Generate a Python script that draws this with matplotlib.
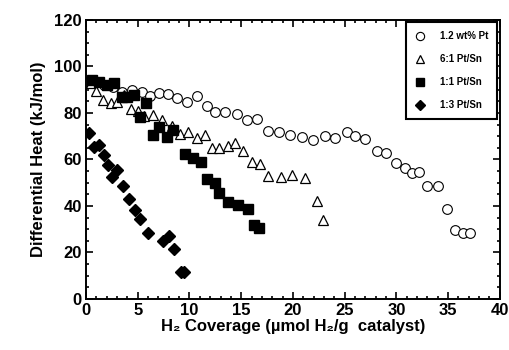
import matplotlib
matplotlib.use("Agg")
import matplotlib.pyplot as plt
from matplotlib.ticker import MultipleLocator

plt.rcParams['font.family'] = ['Liberation Sans', 'DejaVu Sans']
plt.rcParams['font.weight'] = 'bold'

# 1.2 wt% Pt
pt_x = [0.7, 1.7, 2.6, 3.5, 4.4, 5.4, 6.2, 7.1, 7.9, 8.8, 9.8, 10.7, 11.7, 12.5, 13.4,
        14.6, 15.6, 16.5, 17.6, 18.7, 19.7, 20.9, 21.9, 23.1, 24.1, 25.2, 26.0, 27.0,
        28.1, 29.0, 30.0, 30.8, 31.5, 32.2, 33.0, 34.0, 34.9, 35.7, 36.4, 37.1]
pt_y = [93, 92, 91, 89, 90, 89, 87.3, 88.6, 88.2, 86.5, 84.7, 87.3, 83, 80.4, 80.4,
        79.6, 77, 77.4, 72.3, 71.8, 70.5, 69.7, 68.4, 70.1, 69.2, 71.8, 70.1, 68.8,
        63.7, 62.8, 58.5, 56.3, 54.2, 54.6, 48.6, 48.6, 38.8, 29.5, 28.5, 28.5]

# 6:1 Pt/Sn
s61_x = [0.5, 1.0, 1.6, 2.4, 3.0, 3.7, 4.3, 5.0, 5.6, 6.5, 7.3, 8.3, 9.1, 9.9, 10.7,
         11.5, 12.2, 12.9, 13.7, 14.4, 15.2, 16.0, 16.8, 17.6, 18.8, 19.9, 21.2, 22.3, 22.9]
s61_y = [93, 89.5, 85.5, 84.3, 84.5, 87.5, 81.7, 81, 78.5, 79, 77, 74.5, 71, 71.8, 69.2,
         70.5, 65, 64.8, 65.8, 67, 63.7, 59, 58, 52.9, 52.5, 53.3, 52, 42, 34]

# 1:1 Pt/Sn
s11_x = [0.6, 1.3, 2.0, 2.7, 3.5, 4.0, 4.6, 5.2, 5.8, 6.5, 7.1, 7.8, 8.4, 9.6, 10.3,
         11.1, 11.7, 12.5, 12.9, 13.7, 14.7, 15.7, 16.2, 16.7]
s11_y = [94, 93.3, 92, 93, 87, 87, 87.7, 78.3, 84.3, 70.5, 74, 69.7, 72.7, 62.4, 60.6,
         58.9, 51.6, 49.9, 45.6, 41.7, 40.4, 38.5, 32, 30.5]

# 1:3 Pt/Sn
s13_x = [0.3, 0.8, 1.3, 1.7, 2.1, 2.5, 3.0, 3.6, 4.2, 4.7, 5.2, 6.0, 7.4, 8.0, 8.5, 9.2, 9.5]
s13_y = [71.5, 65.5, 66, 62, 57.6, 52.5, 55.5, 48.5, 42.8, 38.3, 34.3, 28.5, 25, 27,
         21.5, 11.5, 11.5]

labels = ['1.2 wt% Pt', '6:1 Pt/Sn', '1:1 Pt/Sn', '1:3 Pt/Sn']

fig = plt.figure(figsize=(5.09, 3.5), dpi=100)
ax = fig.add_axes([0.169, 0.146, 0.813, 0.797])

ax.plot(pt_x, pt_y, 'o', ms=7, mfc='white', mec='black', mew=0.8, ls='none', label=labels[0])
ax.plot(s61_x, s61_y, '^', ms=7.5, mfc='white', mec='black', mew=0.9, ls='none', label=labels[1])
ax.plot(s11_x, s11_y, 's', ms=6.5, mfc='black', mec='black', ls='none', label=labels[2])
ax.plot(s13_x, s13_y, 'D', ms=6, mfc='black', mec='black', ls='none', label=labels[3])

ax.set_xlim(0, 40)
ax.set_ylim(0, 120)
ax.xaxis.set_major_locator(MultipleLocator(5))
ax.xaxis.set_minor_locator(MultipleLocator(1))
ax.yaxis.set_major_locator(MultipleLocator(20))
ax.yaxis.set_minor_locator(MultipleLocator(5))
ax.tick_params(which='both', direction='in', top=True, right=True, width=1.2)
ax.tick_params(which='major', length=5, labelsize=12, pad=3)
ax.tick_params(which='minor', length=2.5)
for lab in ax.get_xticklabels() + ax.get_yticklabels():
    lab.set_fontweight('bold')
for sp in ax.spines.values():
    sp.set_linewidth(1.4)

ax.set_xlabel('H\u2082 Coverage (µmol H\u2082/g  catalyst)', fontsize=12, fontweight='bold', labelpad=1)
ax.set_ylabel('Differential Heat (kJ/mol)', fontsize=12, fontweight='bold', labelpad=6)

leg = ax.legend(loc='upper right', bbox_to_anchor=(0.993, 0.992), fancybox=False,
                prop={'size': 7, 'weight': 'bold'}, labelspacing=1.35, handlelength=1.2,
                handletextpad=1.4, borderpad=0.9, borderaxespad=0, framealpha=1,
                markerscale=0.85)
leg.get_frame().set_edgecolor('black')
leg.get_frame().set_linewidth(1.5)

fig.savefig('out.png', dpi=100)
